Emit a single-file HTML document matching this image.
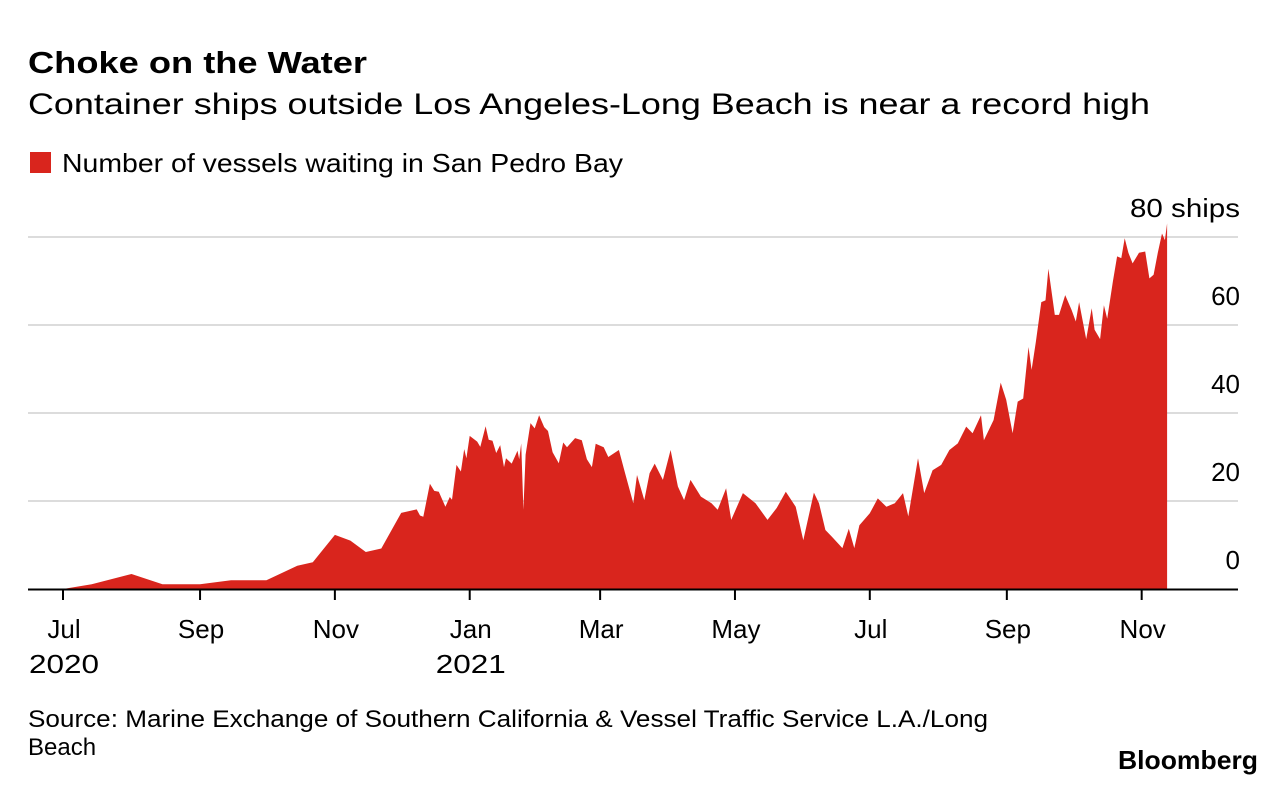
<!DOCTYPE html>
<html><head><meta charset="utf-8">
<style>
body{margin:0;background:#fff;width:1286px;height:786px;overflow:hidden;font-family:"Liberation Sans",Arial,sans-serif;color:#000}
svg{position:absolute;left:0;top:0}
</style></head>
<body>
<svg id="chart" width="1286" height="786">
<text x="28" y="73" font-size="31" font-weight="bold" textLength="339" lengthAdjust="spacingAndGlyphs">Choke on the Water</text>
<text x="28" y="114" font-size="30" textLength="1122" lengthAdjust="spacingAndGlyphs">Container ships outside Los Angeles-Long Beach is near a record high</text>
<rect x="30" y="152" width="21" height="21" fill="#d9251d"/>
<text x="62" y="172" font-size="26" textLength="561" lengthAdjust="spacingAndGlyphs">Number of vessels waiting in San Pedro Bay</text>
<g id="grid"></g>
<g id="area"></g>
<g id="axis"></g>
<text x="28" y="727" font-size="24" textLength="960" lengthAdjust="spacingAndGlyphs">Source: Marine Exchange of Southern California &amp; Vessel Traffic Service L.A./Long</text>
<text x="28" y="755" font-size="24">Beach</text>
<text x="1118" y="769" font-size="26" font-weight="bold" textLength="140" lengthAdjust="spacingAndGlyphs">Bloomberg</text>
</svg>
<script>
const days=[0,13,31,45,62,76,92,106,113,123,130,137,144,153,160,161.5,163,166,168,170,173,175,176,178,180,181.5,182.5,184,187.4,188.8,191.2,192.6,194.3,196,197.8,199.5,200.4,203,205.6,206.4,207.3,208.3,209.3,211.5,213.4,215.4,217.7,219.4,221.5,224.3,226.3,228,231.7,234.7,237,239.3,241,244.6,246.7,251.5,254.3,258,259.7,263,265.4,267.7,271.4,274.9,278.2,281,283.9,288.6,293.4,296.2,300,302.3,307.6,313.3,318.7,322.9,327,331.5,334.9,339.7,342,344.9,347.8,352.6,355.5,358,360.3,365,368.6,372.5,376.3,380,382.4,386.8,389.6,393.4,397.3,401,404.8,408.6,411.5,415.3,416.6,421,424.2,426.7,429.6,431.9,434.4,436.8,438.2,440.1,442.6,444.5,445.8,448.7,450.6,453.4,456.3,458.2,459.7,462.9,465.4,466.7,469.2,470.9,472.4,475,476.9,478.8,480.3,482,483.9,486.8,489.6,491.5,493.4,495.3,497.2,498.5,499.5];
const vessels=[0,1.1,3.4,1.1,1.1,2,2,5.3,6.1,12.3,11,8.4,9.2,17.3,18.1,16.7,16.4,23.9,22.3,22.1,18.7,20.9,20.3,28.2,26.7,31.8,29.7,34.8,33.5,32.3,37,33.9,33.7,30.9,32.7,27.7,29.7,28.5,31.4,29.5,33.1,18,30.5,37.7,36.5,39.5,36.8,35.9,31.1,28.6,33.3,32.2,34.3,33.8,29.5,27.7,33,32.2,30,31.6,26.3,19.5,25.9,20.2,26.3,28.5,24.8,31.6,23.3,20.2,24.8,21,19.5,18,22.9,15.7,21.8,19.5,15.7,18.4,22.1,18.7,11.1,21.9,19.5,13.4,11.9,9.3,13.7,9.3,14.5,17.2,20.6,18.7,19.5,21.8,16.5,29.7,21.8,27,28.2,31.6,33.1,36.9,35.4,39.5,33.8,38.4,46.9,43,35.4,42.6,43.3,55,49.8,56.1,65.2,65.6,72.8,62.3,62.3,66.8,63.4,60.8,65.2,56.8,63.8,58.9,56.8,64.5,61.4,69.9,75.6,75.2,79.7,76.4,74,76.4,76.7,70.6,71.4,76.4,80.8,79.3,83.1];
const yTicks=[0,20,40,60,80];
const yTickLabels=["0","20","40","60","80 ships"];
const xTickDays=[0,62,123,184,243,304,365,427,488];
const xTickLabels=["Jul","Sep","Nov","Jan","Mar","May","Jul","Sep","Nov"];
const xYearLabels=["2020","","","2021","","","","",""];

const NS="http://www.w3.org/2000/svg";
const X=d=>63+d*2.2104;
const Y=v=>589-v*4.4;
function mk(tag,attrs,parent){const e=document.createElementNS(NS,tag);for(const k in attrs)e.setAttribute(k,attrs[k]);parent.appendChild(e);return e;}
const grid=document.getElementById('grid'),area=document.getElementById('area'),axis=document.getElementById('axis');
yTicks.forEach((t,i)=>{
  if(t>0){const l=mk('line',{x1:28,x2:1238,y1:Y(t),y2:Y(t),stroke:'#dcdcdc','stroke-width':2},grid);
  
  }
  const attrs={x:1240,y:Y(t)-20,'font-size':26,'text-anchor':'end'};
  if(t===80){attrs.textLength=110;attrs.lengthAdjust='spacingAndGlyphs';}
  const tx=mk('text',attrs,grid);
  tx.textContent=yTickLabels[i];
  
  
});
let d='M'+X(days[0])+','+Y(0);
days.forEach((dd,i)=>{d+=' L'+X(dd).toFixed(1)+','+Y(vessels[i]).toFixed(1);});
d+=' L'+X(days[days.length-1]).toFixed(1)+','+Y(0)+' Z';
const p=mk('path',{d:d,fill:'#d9251d'},area);


const ax=mk('line',{x1:28,x2:1238,y1:589.5,y2:589.5,stroke:'#000','stroke-width':2},axis);


xTickDays.forEach((t,i)=>{
  const tk=mk('line',{x1:X(t),x2:X(t),y1:589,y2:600,stroke:'#000','stroke-width':2},axis);
  
  
  const tl=mk('text',{x:X(t)+1,y:638,'font-size':26,'text-anchor':'middle'},axis);
  tl.textContent=xTickLabels[i];
  
  
  if(xYearLabels[i]){
    const yl=mk('text',{x:X(t)+1,y:673,'font-size':26,'text-anchor':'middle',textLength:70,lengthAdjust:'spacingAndGlyphs'},axis);
    yl.textContent=xYearLabels[i];
    
    
  }
});
</script>
</body></html>
